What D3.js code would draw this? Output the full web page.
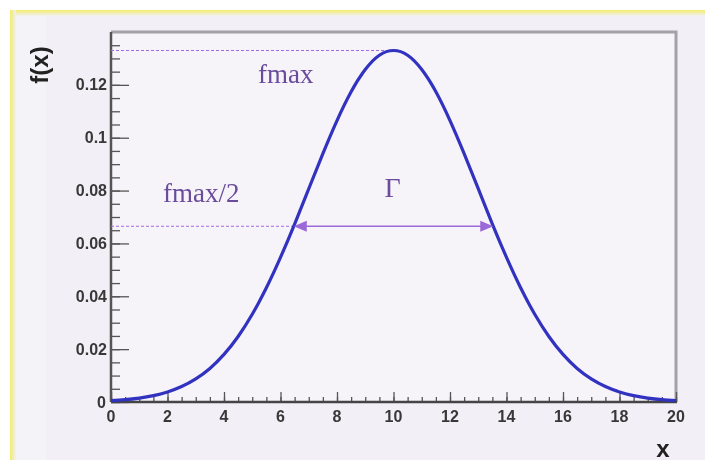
<!DOCTYPE html>
<html>
<head>
<meta charset="utf-8">
<script src="https://cdn.jsdelivr.net/npm/d3@7"></script>
<style>
  html, body { margin: 0; padding: 0; background: #ffffff; }
  svg { display: block; }
</style>
</head>
<body>
<svg id="chart" width="705" height="463"></svg>
<script>
// Sampled curve f(x)
const xValues = [0, 0.5, 1, 1.5, 2, 2.5, 3, 3.5, 4, 4.5, 5, 5.5, 6, 6.5, 7, 7.5, 8, 8.5, 9, 9.5,
                 10, 10.5, 11, 11.5, 12, 12.5, 13, 13.5, 14, 14.5, 15, 15.5, 16, 16.5, 17, 17.5, 18, 18.5, 19, 19.5, 20];
const fValues = [0.00051, 0.00088, 0.00148, 0.0024, 0.0038, 0.00584, 0.00874, 0.0127, 0.0180, 0.0248,
                 0.0332, 0.0432, 0.0547, 0.0673, 0.0807, 0.0940, 0.1065, 0.1174, 0.1258, 0.1312,
                 0.1330,
                 0.1312, 0.1258, 0.1174, 0.1065, 0.0940, 0.0807, 0.0673, 0.0547, 0.0432, 0.0332,
                 0.0248, 0.0180, 0.0127, 0.00874, 0.00584, 0.0038, 0.0024, 0.00148, 0.00088, 0.00051];

// Axis ticks
const xTicks = [0, 2, 4, 6, 8, 10, 12, 14, 16, 18, 20];
const xTickLabels = ["0", "2", "4", "6", "8", "10", "12", "14", "16", "18", "20"];
const yTicks = [0, 0.02, 0.04, 0.06, 0.08, 0.1, 0.12];
const yTickLabels = ["0", "0.02", "0.04", "0.06", "0.08", "0.1", "0.12"];
const xDomain = [0, 20];
const yDomain = [0, 0.14];

// Annotation texts
const labelMax = "fmax";
const labelHalf = "fmax/2";
const labelWidth = "Γ";

(function draw() {
  const svg = d3.select("#chart");

  // canvas background with a yellow rim on top and left
  const defs = svg.append("defs");
  const gTop = defs.append("linearGradient").attr("id", "rimTop").attr("x1", 0).attr("y1", 0).attr("x2", 0).attr("y2", 1);
  gTop.append("stop").attr("offset", "0%").attr("stop-color", "#f1ec6a");
  gTop.append("stop").attr("offset", "100%").attr("stop-color", "#f3eff6");
  const gLeft = defs.append("linearGradient").attr("id", "rimLeft").attr("x1", 0).attr("y1", 0).attr("x2", 1).attr("y2", 0);
  gLeft.append("stop").attr("offset", "0%").attr("stop-color", "#f1ec6a");
  gLeft.append("stop").attr("offset", "100%").attr("stop-color", "#f3eff6");
  const soft = defs.append("filter").attr("id", "soft").attr("x", "-5%").attr("y", "-5%").attr("width", "110%").attr("height", "110%");
  soft.append("feGaussianBlur").attr("stdDeviation", 0.45);

  const root = svg.append("g").attr("filter", "url(#soft)");

  root.append("rect").attr("x", 10).attr("y", 10).attr("width", 695).attr("height", 450).attr("fill", "#f3eff6");
  root.append("rect").attr("x", 16).attr("y", 16).attr("width", 30).attr("height", 444).attr("fill", "#f4f3f8");
  root.append("rect").attr("x", 10).attr("y", 10).attr("width", 695).attr("height", 6).attr("fill", "url(#rimTop)");
  root.append("rect").attr("x", 10).attr("y", 10).attr("width", 6).attr("height", 450).attr("fill", "url(#rimLeft)");

  // plot geometry
  const pLeft = 111, pRight = 676, pTop = 32, pBottom = 402;
  const x = d3.scaleLinear().domain(xDomain).range([pLeft, pRight]);
  const y = d3.scaleLinear().domain(yDomain).range([pBottom, pTop]);

  // plot area and frame
  root.append("rect").attr("x", pLeft).attr("y", pTop).attr("width", pRight - pLeft).attr("height", pBottom - pTop)
    .attr("fill", "#f6f3f9");
  root.append("path")
    .attr("d", `M${pLeft},${pTop}H${pRight}V${pBottom}`)
    .attr("fill", "none").attr("stroke", "#a2a2a8").attr("stroke-width", 3);

  // axes with inward ticks
  const xAxisMajor = d3.axisTop(x).tickValues(xTicks).tickSize(10).tickFormat("");
  const xAxisMinor = d3.axisTop(x).tickValues(d3.range(0, 20.01, 0.5)).tickSize(5).tickFormat("");
  const yAxisMajor = d3.axisRight(y).tickValues(yTicks).tickSize(18).tickFormat("");
  const yAxisMinor = d3.axisRight(y).tickValues(d3.range(0, 0.1399, 0.005)).tickSize(9).tickFormat("");

  function styleAxis(g) {
    g.select(".domain").remove();
    g.selectAll(".tick line").attr("stroke", "#555").attr("stroke-width", 1.3);
  }
  root.append("g").attr("transform", `translate(0,${pBottom})`).call(xAxisMinor).call(styleAxis);
  root.append("g").attr("transform", `translate(0,${pBottom})`).call(xAxisMajor).call(styleAxis);
  root.append("g").attr("transform", `translate(${pLeft},0)`).call(yAxisMinor).call(styleAxis);
  root.append("g").attr("transform", `translate(${pLeft},0)`).call(yAxisMajor).call(styleAxis);

  // axis lines
  root.append("line").attr("x1", pLeft).attr("x2", pRight + 1).attr("y1", pBottom).attr("y2", pBottom)
    .attr("stroke", "#444").attr("stroke-width", 2.5);
  root.append("line").attr("x1", pLeft).attr("x2", pLeft).attr("y1", pTop).attr("y2", pBottom)
    .attr("stroke", "#555").attr("stroke-width", 2.5);

  // tick labels
  const tickFont = "'Liberation Sans', Arial, sans-serif";
  root.append("g").selectAll("text").data(xTicks).join("text")
    .attr("x", d => x(d)).attr("y", 422)
    .attr("text-anchor", "middle")
    .attr("font-family", tickFont).attr("font-weight", "bold").attr("font-size", 16)
    .attr("fill", "#383838")
    .text((d, i) => xTickLabels[i]);
  root.append("g").selectAll("text").data(yTicks).join("text")
    .attr("x", d => d === 0 ? 106 : 107).attr("y", d => y(d) + 5.5)
    .attr("text-anchor", "end")
    .attr("font-family", tickFont).attr("font-weight", "bold").attr("font-size", 16)
    .attr("fill", "#383838")
    .text((d, i) => yTickLabels[i]);

  // axis titles
  root.append("text")
    .attr("transform", "translate(48,65) rotate(-90)")
    .attr("text-anchor", "middle")
    .attr("font-family", tickFont).attr("font-weight", "bold").attr("font-size", 24)
    .attr("fill", "#222")
    .text("f(x)");
  root.append("text")
    .attr("x", 663).attr("y", 457)
    .attr("text-anchor", "middle")
    .attr("font-family", tickFont).attr("font-weight", "bold").attr("font-size", 24)
    .attr("fill", "#222")
    .text("x");

  // derived quantities: maximum and half-maximum crossings
  const points = xValues.map((v, i) => ({ x: v, f: fValues[i] }));
  const fmax = d3.max(fValues);
  const peakIdx = d3.maxIndex(fValues);
  const peak = points[peakIdx];
  const half = fmax / 2;
  function crossing(from, to, step) {
    for (let i = from; i !== to; i += step) {
      const a = points[i], b = points[i + step];
      if ((a.f - half) * (b.f - half) <= 0) {
        const t = (half - a.f) / (b.f - a.f);
        return a.x + t * (b.x - a.x);
      }
    }
    return points[to].x;
  }
  const xHalfL = crossing(0, peakIdx, 1);
  const xHalfR = crossing(points.length - 1, peakIdx, -1);

  const annColor = "#6a4c9c";
  const guideColor = "#a36be0";

  // dashed guides
  root.append("line")
    .attr("x1", x(0)).attr("x2", x(peak.x)).attr("y1", y(fmax)).attr("y2", y(fmax))
    .attr("stroke", guideColor).attr("stroke-width", 1).attr("stroke-dasharray", "3,2");
  root.append("line")
    .attr("x1", x(0)).attr("x2", x(xHalfL)).attr("y1", y(half)).attr("y2", y(half))
    .attr("stroke", guideColor).attr("stroke-width", 1).attr("stroke-dasharray", "3,2");

  // curve
  const line = d3.line().x(d => x(d.x)).y(d => y(d.f)).curve(d3.curveNatural);
  root.append("path").datum(points)
    .attr("d", line)
    .attr("fill", "none")
    .attr("stroke", "#3232c0")
    .attr("stroke-width", 3.2)
    .attr("stroke-linejoin", "round");

  // width arrow
  const arrowColor = "#9b6ad8";
  const ya = y(half);
  const xl = x(xHalfL), xr = x(xHalfR);
  root.append("line").attr("x1", xl + 8).attr("x2", xr - 8).attr("y1", ya).attr("y2", ya)
    .attr("stroke", arrowColor).attr("stroke-width", 1.6);
  root.append("path")
    .attr("d", `M${xl},${ya}L${xl + 13},${ya - 5.5}L${xl + 13},${ya + 5.5}Z`)
    .attr("fill", arrowColor);
  root.append("path")
    .attr("d", `M${xr},${ya}L${xr - 13},${ya - 5.5}L${xr - 13},${ya + 5.5}Z`)
    .attr("fill", arrowColor);

  // annotation labels
  const serif = "'Liberation Serif', 'Times New Roman', serif";
  root.append("text").attr("x", 258).attr("y", 83)
    .attr("font-family", serif).attr("font-size", 27).attr("fill", annColor).text(labelMax);
  root.append("text").attr("x", 163).attr("y", 202)
    .attr("font-family", serif).attr("font-size", 27).attr("fill", annColor).text(labelHalf);
  root.append("text").attr("x", x(peak.x) - 1).attr("y", 197).attr("text-anchor", "middle")
    .attr("font-family", serif).attr("font-size", 28).attr("fill", annColor).text(labelWidth);
})();
</script>
</body>
</html>
